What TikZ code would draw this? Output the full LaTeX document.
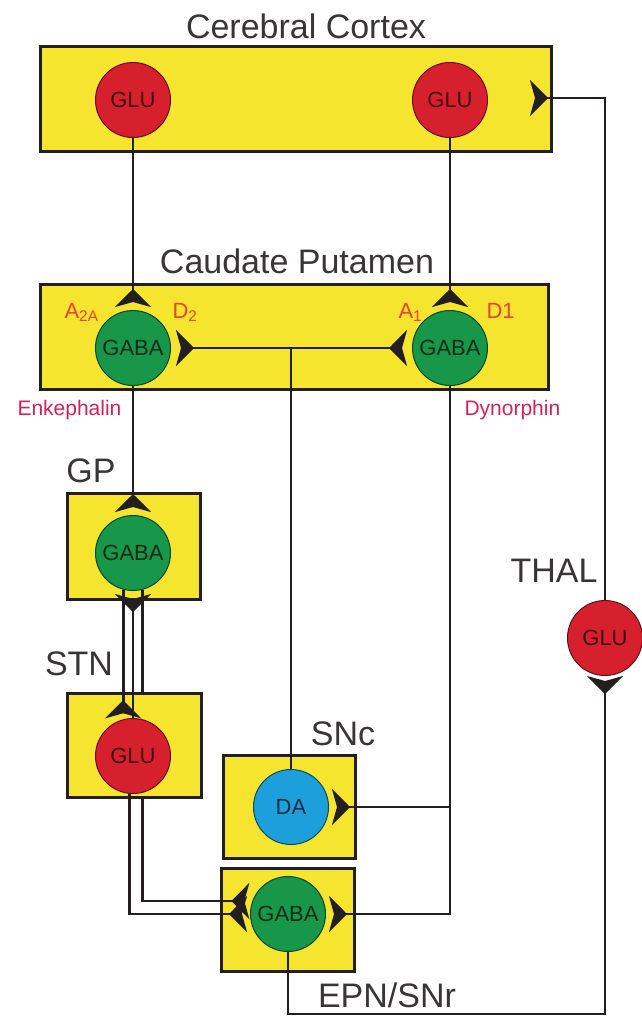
\documentclass[tikz,border=0pt]{standalone}
\usepackage{fontspec}
\setmainfont{Liberation Sans}
\usetikzlibrary{arrows.meta, positioning, calc}
\definecolor{boxyellow}{HTML}{F6E52F}
\definecolor{glured}{HTML}{D7202E}
\definecolor{gabagreen}{HTML}{18964A}
\definecolor{dablue}{HTML}{1C9FDB}
\definecolor{receptor}{HTML}{E8452A}
\definecolor{peptide}{HTML}{D4215A}
\definecolor{wire}{HTML}{231F20}

\begin{document}
\begin{tikzpicture}[x=1pt, y=-1pt,
    region/.style={draw=wire, fill=boxyellow, line width=3pt, inner sep=0pt},
    cell/.style={circle, draw=#1!45!black, fill=#1, minimum size=75pt, inner sep=0pt, line width=1pt, text=#1!30!black, font=\fontsize{22}{22}\selectfont},
    lbl/.style={anchor=base, font=\fontsize{34}{36}\selectfont, text=wire!90},
    rcp/.style={anchor=base west, font=\fontsize{22}{22}\selectfont, text=receptor},
    pep/.style={anchor=base west, font=\fontsize{21}{21}\selectfont, text=peptide},
    wirepath/.style={draw=wire, line width=2.7pt},
    syn/.style={wirepath, -{Stealth[reversed, length=18pt, width=36pt, inset=5pt]}, shorten >=3pt},
]
\useasboundingbox (0,0) rectangle (642,1017);

% --- Regions ---
\node[region, minimum width=511pt, minimum height=105pt] (ctxbox) at (295.5, 98.5) {};
\node[region, minimum width=508pt, minimum height=105pt] (cpbox) at (294, 337) {};
\node[region, minimum width=133pt, minimum height=106pt] (gpbox) at (133.5, 546) {};
\node[region, minimum width=132pt, minimum height=103pt] (dabox) at (289, 806.5) {};
\node[region, minimum width=133pt, minimum height=103pt] (epnbox) at (287.5, 919.5) {};

% --- Cells ---
\node[cell=glured] (gluL) at (133, 100) {GLU};
\node[cell=glured] (gluR) at (450, 100) {GLU};
\node[cell=gabagreen] (gabaL) at (133, 348) {GABA};
\node[cell=gabagreen] (gabaR) at (450, 348) {GABA};
\node[cell=gabagreen] (gp) at (133, 553) {GABA};
\node[cell=dablue] (da) at (291, 807) {DA};
\node[cell=gabagreen] (epn) at (288, 914) {GABA};
\node[cell=glured] (thal) at (605, 638) {GLU};

% GP -> EPN/SNr runs behind the STN box
\draw[syn] (gp.-75) |- (epn.160);

\node[region, minimum width=134pt, minimum height=104pt] (stnbox) at (134, 745) {};
\node[cell=glured] (stn) at (133, 756) {GLU};

% --- Labels ---
\node[lbl] (ctxlbl) at (306, 38) {Cerebral Cortex};
\node[lbl] (cplbl) at (297, 273) {Caudate Putamen};
\node[lbl] (gplbl) at (91, 482) {GP};
\node[lbl] (stnlbl) at (79, 675) {STN};
\node[lbl] (thallbl) at (554, 582) {THAL};
\node[lbl] (snclbl) at (343, 745) {SNc};
\node[lbl] (epnlbl) at (387, 1007) {EPN/SNr};
\node[rcp] (a2a) at (61, 318) {A\textsubscript{2A}};
\node[rcp] (d2) at (169, 318) {D\textsubscript{2}};
\node[rcp] (a1) at (395, 318) {A\textsubscript{1}};
\node[rcp] (d1) at (483, 318) {D1};
\node[pep] (enk) at (14, 415) {Enkephalin};
\node[pep] (dyn) at (461, 415) {Dynorphin};

% --- Corticostriatal ---
\draw[syn] (gluL) -- (gabaL);
\draw[syn] (gluR) -- (gabaR);

% --- Nigrostriatal ---
\coordinate (dasplit) at (da |- gabaL);
\draw[wirepath] (da) -- (dasplit);
\draw[syn, shorten >=5pt] (dasplit) -- (gabaL);
\draw[syn, shorten >=5pt] (dasplit) -- (gabaR);

% --- Indirect pathway ---
\draw[syn] (gabaL) -- (gp);
\draw[syn, shorten >=1pt] (gp.-105) -- (stn.105);
\draw[syn] (stn) -- (gp);
\draw[syn] (stn.-95) |- (epn.west);

% --- Direct pathway ---
\coordinate (dirturn) at (gabaR |- epn);
\coordinate (dirsplit) at (gabaR |- da);
\draw[syn] (gabaR) -- (dirturn) -- (epn);
\draw[syn] (dirsplit) -- (da);

% --- Output to thalamus and back to cortex ---
\coordinate (outturn) at (605, 1014);
\coordinate (ctxsyn) at (530, 98);
\draw[syn, shorten >=0pt] (epn) |- (outturn) -- (thal);
\draw[syn, shorten >=0pt] (thal) |- (ctxsyn);

\end{tikzpicture}
\end{document}
